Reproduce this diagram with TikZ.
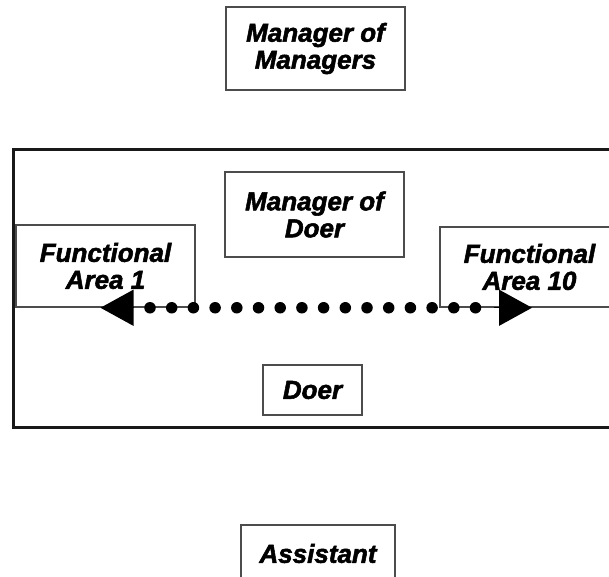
\documentclass[tikz,border=0pt]{standalone}
\usepackage{fontspec}
\setmainfont{Liberation Sans}[FakeBold=2]
\usetikzlibrary{arrows.meta,calc}

\begin{document}
\begin{tikzpicture}[x=1pt,y=-1pt,
  lbl/.style={font=\fontsize{26}{27}\selectfont\bfseries\itshape, align=center},
  rolebox/.style={lbl, draw=black!70, line width=1.5pt, fill=white, inner sep=0pt},
  frame/.style={draw=black!90, line width=3pt},
  dotrow/.style={line width=11.5pt, line cap=round, dash pattern=on 0pt off 21.7pt},
  bigtip/.style={-{Triangle[length=33pt,width=36pt]}, line width=1.2pt}
]
\clip (0,0) rectangle (609,576);
\fill[white] (0,0) rectangle (609,576);

% department frame (runs off the right edge)
\draw[frame] (620,149) -- (13,149) -- (13,427) -- (620,427);

% roles
\node[rolebox, minimum width=179pt, minimum height=83pt] (mm) at (315.5,48.5) {Manager of\\Managers};
\node[rolebox, minimum width=179pt, minimum height=85pt] (md) at (314.5,214.5) {Manager of\\Doer};
\node[rolebox, minimum width=179pt, minimum height=82pt] (fa1) at (105.5,266) {Functional\\Area 1};
\node[rolebox, minimum width=179pt, minimum height=80pt] (fa10) at (529.5,267) {Functional\\Area 10};
\node[rolebox, minimum width=99pt, minimum height=50pt] (doer) at (312.5,390) {Doer};
\node[rolebox, minimum width=154pt, minimum height=57pt] (asst) at (318,553.5) {Assistant};

% dotted link between the functional areas
\draw[dotrow] ($(fa1.south)+(44.5,0)$) -- ($(fa10.south)+(-53,0)$);
\draw[bigtip] ($(fa1.south)+(28,0)$) -- ($(fa1.south)+(-5,0)$);
\draw[bigtip] ($(fa10.south)+(-36,0)$) -- ($(fa10.south)+(2.5,0)$);
\end{tikzpicture}
\end{document}
